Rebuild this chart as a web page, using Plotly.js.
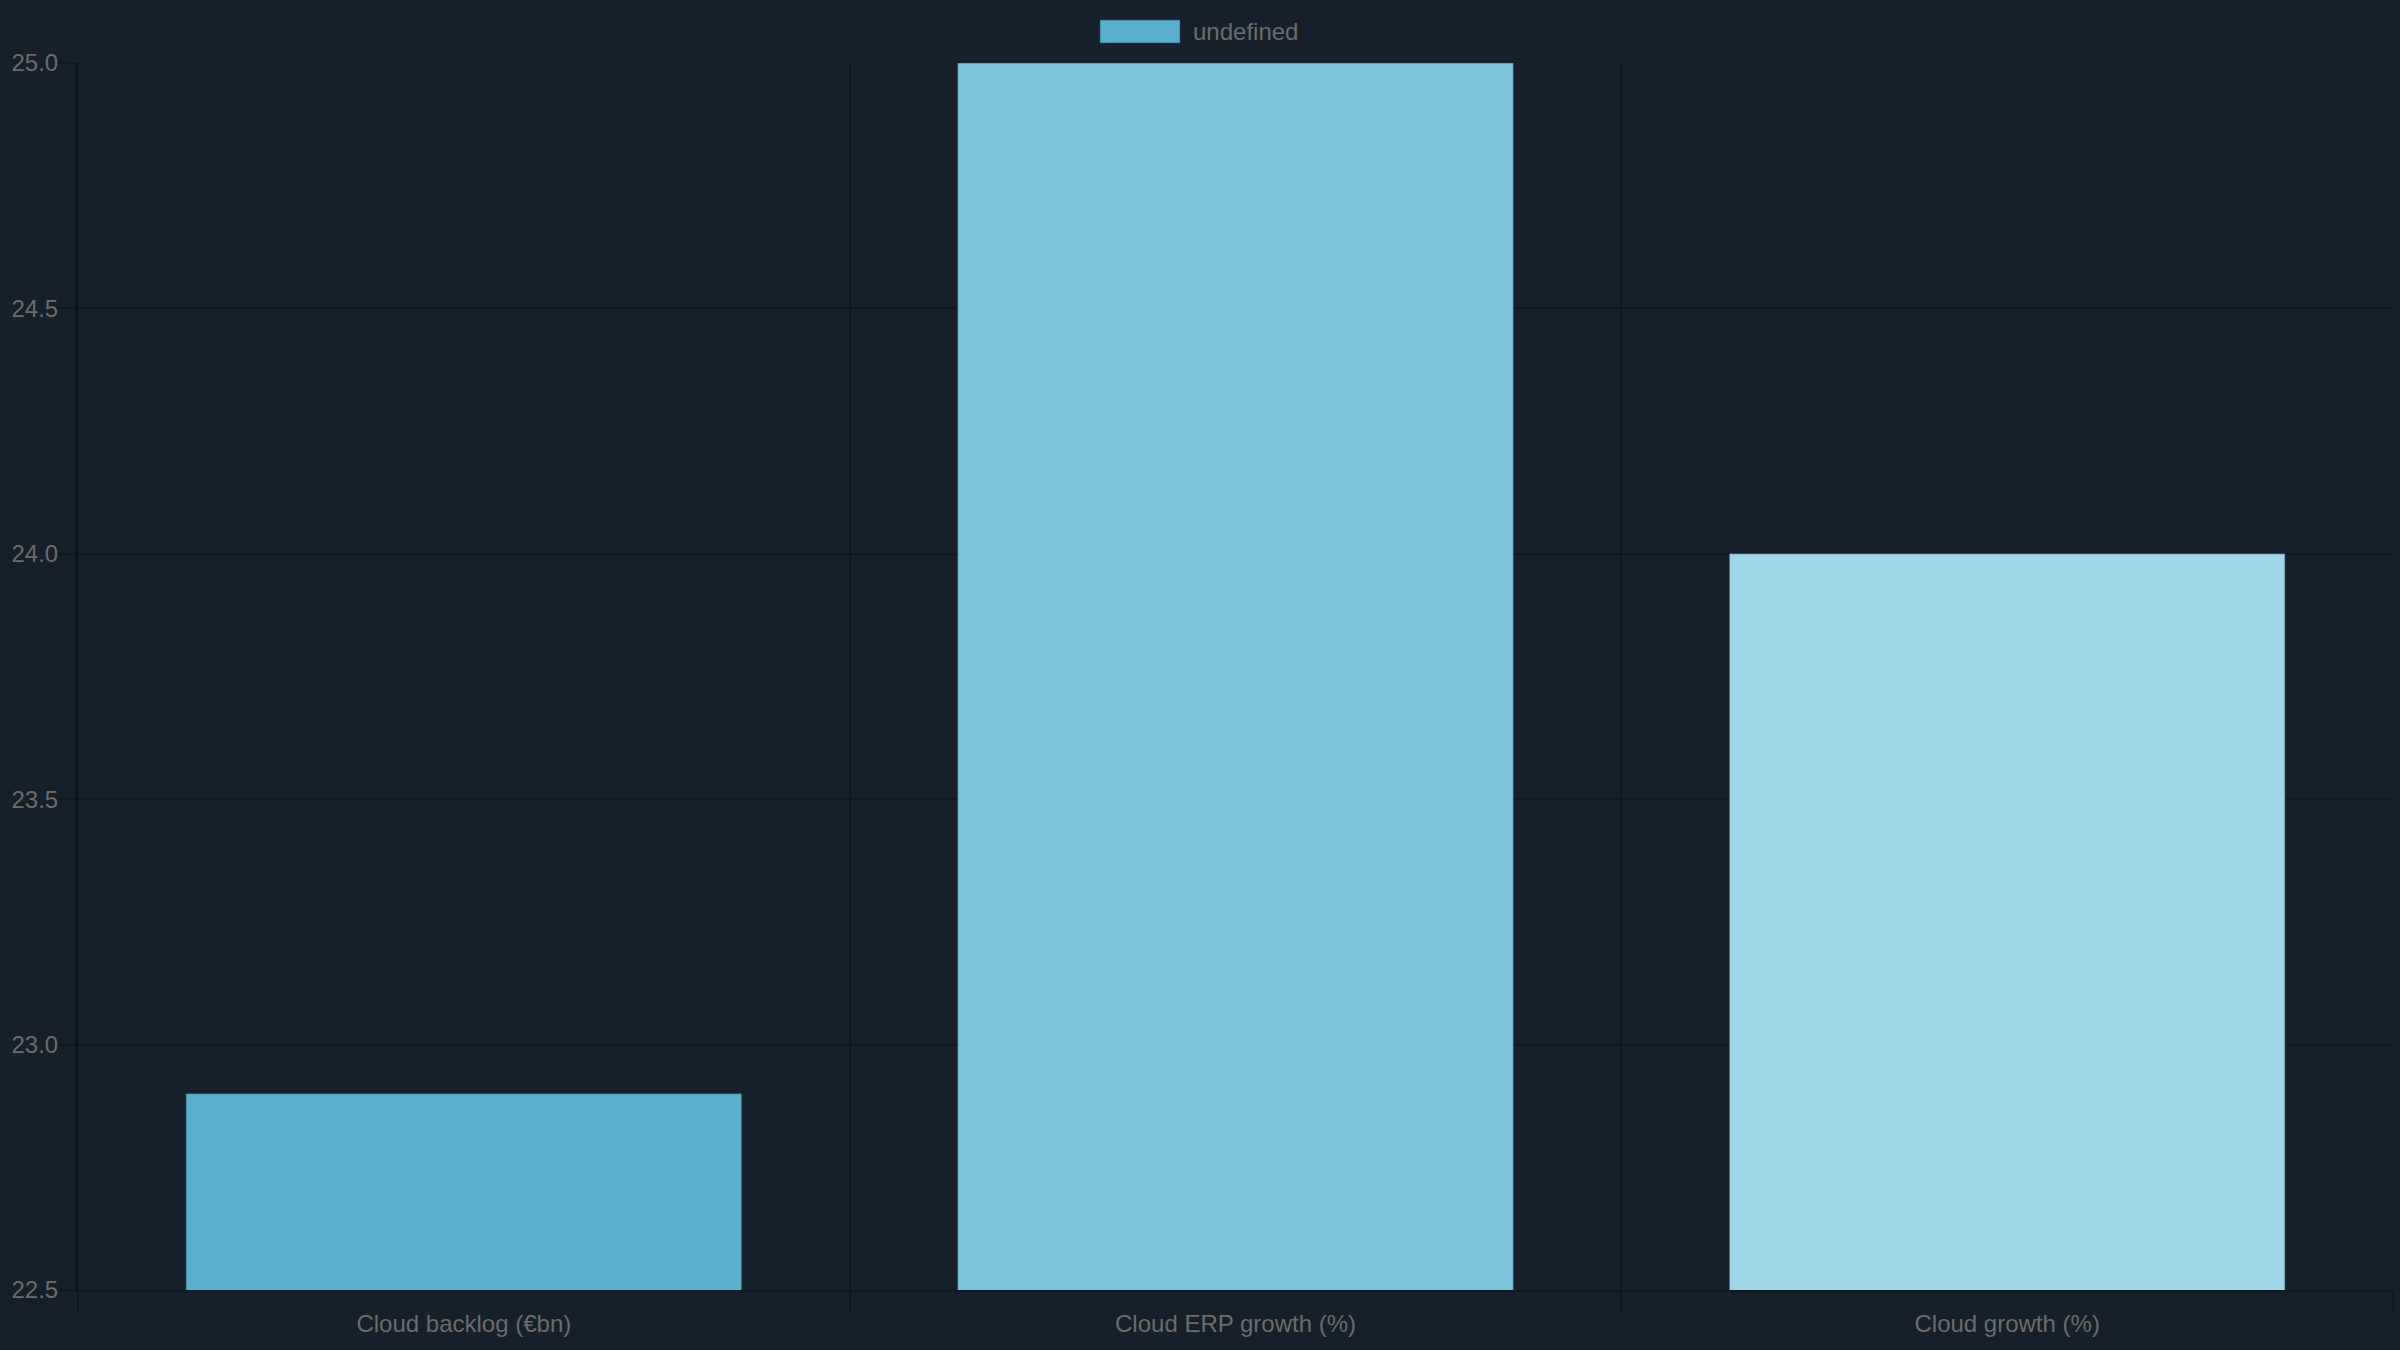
<!DOCTYPE html>
<html>
<head>
<meta charset="utf-8">
<script src="https://cdn.plot.ly/plotly-3.0.1.min.js"></script>
<style>
  html, body { margin: 0; padding: 0; background: #15202a; }
  #chart { width: 2400px; height: 1350px; }
</style>
</head>
<body>
<div id="chart"></div>
<script>
// chart data
const categories = ["Cloud backlog (€bn)", "Cloud ERP growth (%)", "Cloud growth (%)"];
const values = [22.9, 25.0, 24.0];
const barColors = ["#5aafcc", "#7cc4da", "#9fd7e8"];
const seriesName = "undefined";
const yTicks = [22.5, 23.0, 23.5, 24.0, 24.5, 25.0];

const bg = "#15202a";
const gridColor = "#101922";
const textColor = "#6b6b6b";
const font = "Liberation Sans, Arial, sans-serif";

const trace = {
    type: "bar",
    name: seriesName,
    x: categories,
    y: values,
    marker: {
        color: barColors,
        line: { color: "rgba(40,80,100,0.6)", width: 1 }
    },
    showlegend: false,
    hoverinfo: "x+y"
};

const layout = {
    width: 2400,
    height: 1350,
    paper_bgcolor: bg,
    plot_bgcolor: bg,
    margin: { l: 78, r: 7, t: 63, b: 60 },
    bargap: 0.28,
    font: { family: font, size: 24, color: textColor },
    showlegend: false,
    xaxis: {
        type: "category",
        tickson: "boundaries",
        ticks: "outside",
        ticklen: 20,
        tickcolor: gridColor,
        tickwidth: 2,
        showgrid: true,
        gridcolor: gridColor,
        gridwidth: 2,
        showline: true,
        linecolor: gridColor,
        linewidth: 2,
        zeroline: false,
        ticklabelstandoff: 11,
        tickfont: { family: font, size: 24, color: textColor }
    },
    yaxis: {
        range: [22.5, 25.0],
        tickvals: yTicks,
        tickformat: ".1f",
        ticks: "outside",
        ticklen: 20,
        tickcolor: gridColor,
        tickwidth: 2,
        showgrid: true,
        gridcolor: gridColor,
        gridwidth: 2,
        showline: true,
        linecolor: "#0c141b",
        linewidth: 3,
        zeroline: false,
        ticklabelstandoff: -8,
        tickfont: { family: font, size: 24, color: textColor }
    },
    // Chart.js style legend: wide swatch + label
    shapes: [{
        type: "rect",
        xref: "paper", yref: "paper",
        x0: (1100 - 78) / 2315, x1: (1180 - 78) / 2315,
        y0: (1290 - 43) / 1227, y1: (1290 - 20) / 1227,
        fillcolor: barColors[0],
        line: { color: "rgba(40,80,100,0.6)", width: 1 }
    }],
    annotations: [{
        xref: "paper", yref: "paper",
        x: (1191 - 78) / 2315, y: (1290 - 31.5) / 1227,
        xanchor: "left", yanchor: "middle",
        text: seriesName,
        showarrow: false,
        font: { family: font, size: 24, color: textColor }
    }]
};

Plotly.newPlot("chart", [trace], layout, { displayModeBar: false, staticPlot: true });
</script>
</body>
</html>
